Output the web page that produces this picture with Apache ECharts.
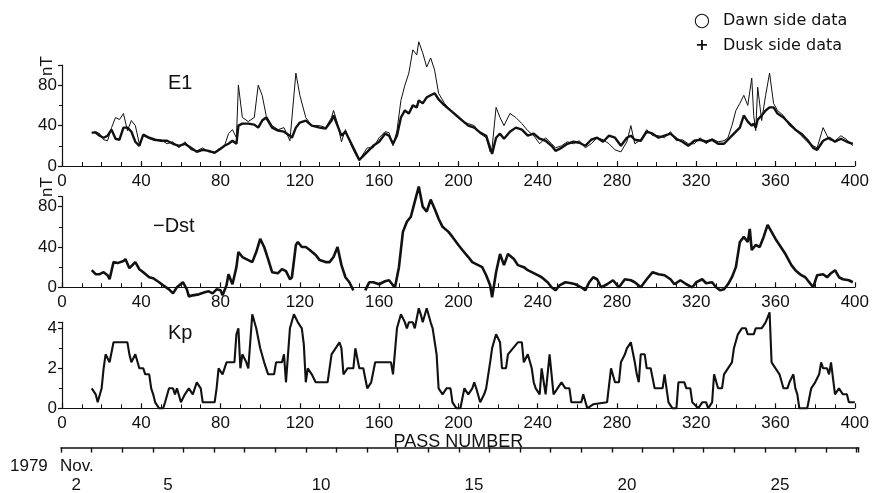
<!DOCTYPE html>
<html>
<head>
<meta charset="utf-8">
<script src="https://cdn.jsdelivr.net/npm/echarts@6/dist/echarts.min.js"></script>
<style>html,body{margin:0;padding:0;background:#fff}#c{width:872px;height:493px}</style>
</head>
<body>
<div id="c"></div>
<script>
// ---- DATA ----
const passE1 = [15,17,19,21,23,25,27,29,31,33,35,37,39,41,44,47,50,53,56,59,62,65,68,71,74,77,80,82,84,86,88,89,91,94,97,99,101,103,106,109,112,115,116,118,120,123,126,130,133,136,137,139,141,143,146,148,150,152,154,157,160,163,165,167,169,171,173,175,177,179,180,182,184,186,188,190,193,196,199,202,205,208,211,214,216,217,219,221,223,226,229,232,235,238,241,244,247,249,252,255,258,261,264,267,270,273,276,279,282,285,287,289,292,295,298,301,304,307,310,313,316,319,322,325,328,331,334,336,338,340,342,344,346,348,349,350,351,353,355,357,359,361,364,367,370,373,376,379,381,384,387,390,393,396,399];
const e1Dusk = [33,33,30,28,30,36,27,26,38,38,34,24,20,31,28,26,25,25,22,20,22,18,14,16,15,13,17,20,22,25,22,40,42,42,41,38,45,48,38,35,34,30,28,38,43,45,40,38,37,45,50,40,30,34,22,14,6,10,14,20,24,32,30,22,30,48,55,52,60,58,65,62,68,70,72,66,60,55,50,45,40,38,33,30,18,12,28,32,27,34,38,36,30,32,27,25,20,15,18,22,24,23,20,26,28,24,30,28,20,28,30,26,25,34,32,28,30,32,27,24,20,25,26,24,26,22,22,26,30,34,38,50,44,40,42,38,46,50,55,58,58,52,48,42,36,32,26,18,16,25,28,24,27,24,22];
const e1Dawn = [33,34,32,26,25,38,48,46,52,35,45,40,22,30,27,25,26,22,24,18,24,16,15,18,14,14,18,20,32,36,28,80,48,44,48,80,70,50,40,36,38,25,24,92,70,48,40,40,38,48,55,42,24,36,20,12,5,12,18,18,28,34,33,20,35,65,80,92,115,110,123,112,98,107,95,72,62,55,50,44,42,40,32,28,14,18,58,48,40,52,48,42,35,30,22,28,22,18,20,24,22,25,18,22,28,26,22,16,14,24,40,22,26,36,30,30,28,34,25,26,22,22,28,22,27,24,25,28,40,55,62,70,60,87,50,35,78,45,70,92,62,55,50,40,36,30,24,20,18,38,26,25,30,26,20];

const passDst = [15,17,19,21,23,24,26,28,31,32,34,37,39,41,44,46,49,51,54,56,58,61,63,64,66,69,72,74,76,78,80,81,83,84,86,88,89,91,94,96,98,100,102,104,106,109,111,113,115,116,118,119,121,123,125,128,130,133,135,137,139,141,143,145,147,150,153,155,157,160,163,165,167,168,170,172,174,176,178,180,182,184,186,188,190,192,195,197,200,202,205,207,210,212,214,216,217,219,221,223,225,228,230,233,235,238,240,242,245,247,249,251,254,257,259,262,264,266,268,270,272,275,278,281,284,287,289,292,295,298,301,304,307,309,312,315,318,320,323,325,328,330,332,334,336,338,340,342,344,346,347,348,350,352,354,356,358,360,362,365,368,370,373,375,377,379,381,384,386,388,390,392,394,397,399];
const dst = [17,13,13,15,12,8,25,24,26,28,19,25,18,15,10,9,5,2,-2,-6,0,5,-2,-9,-8,-7,-5,-4,-6,-2,-3,-8,2,13,3,20,35,30,27,25,35,48,40,28,15,14,18,16,8,10,42,45,40,40,37,32,27,25,25,30,40,22,10,5,-3,null,-3,5,5,3,6,7,2,0,20,55,65,70,85,100,80,75,87,78,68,60,55,50,42,37,30,25,22,20,12,2,-10,15,33,22,33,28,22,20,17,14,12,10,5,0,-3,2,5,4,3,0,-3,5,10,8,0,3,7,0,8,7,5,0,8,15,13,12,8,3,7,3,0,5,8,4,5,0,-3,-2,3,10,20,45,50,45,58,37,42,40,50,62,55,48,42,33,22,17,12,10,5,0,12,13,10,14,17,10,8,7,5];

const passKp = [15,17,18,20,21,22,24,25,26,33,34,35,36,37,39,41,42,44,45,46,47,49,51,52,54,56,57,58,59,60,61,62,64,66,67,68,70,71,77,78,79,80,81,82,83,87,88,89,90,91,93,94,95,96,98,100,102,104,107,108,111,112,113,114,115,117,119,121,122,123,124,126,128,134,136,138,140,141,142,144,147,148,149,150,152,154,156,158,166,167,169,171,173,174,175,177,178,180,181,182,184,186,187,189,190,192,194,196,197,199,201,203,205,207,208,209,211,213,214,216,217,219,220,221,222,224,225,226,230,232,233,235,237,238,239,241,242,243,244,245,246,247,248,250,252,254,256,257,262,263,264,265,268,275,277,279,281,282,284,285,287,288,289,290,291,292,294,295,297,299,303,304,306,308,310,311,314,315,317,318,321,323,325,326,328,329,330,331,333,334,336,338,339,341,343,345,346,349,350,353,355,356,357,358,360,362,364,366,367,369,370,371,372,376,378,380,382,383,384,386,387,388,389,390,392,394,396,397,400];
const kp = [1.0,0.7,0.3,1.0,2.0,2.7,2.3,2.3,3.3,3.3,2.7,2.3,2.3,2.7,2.0,2.0,1.7,1.7,1.0,0.7,0.3,0.0,0.0,0.3,1.0,1.0,0.7,1.0,1.0,0.3,0.3,0.7,1.0,0.7,1.0,1.3,1.0,0.3,0.3,1.0,2.0,2.0,1.7,1.7,2.3,2.3,3.7,4.0,2.0,2.7,2.3,2.0,2.0,4.7,4.0,3.0,2.3,1.7,1.7,2.3,2.3,2.7,1.3,1.3,4.0,4.7,4.3,4.0,3.2,1.3,2.0,1.7,1.3,1.3,2.7,3.0,3.3,3.0,1.7,2.0,2.0,3.0,3.0,2.0,2.0,1.0,1.3,2.3,2.3,1.7,4.0,4.7,4.3,4.0,4.3,4.3,4.0,5.0,4.7,4.3,5.0,4.3,4.0,2.7,1.0,0.7,1.0,1.0,0.3,0.0,0.0,1.0,0.7,1.0,1.3,1.0,0.3,0.7,1.0,2.3,3.0,3.7,3.7,3.3,2.0,2.0,2.7,2.7,3.3,3.3,2.3,2.7,2.0,1.3,1.0,0.7,2.0,2.0,0.7,0.7,2.7,2.7,0.7,1.0,1.3,1.0,1.0,0.3,0.3,0.7,0.7,0.0,0.2,0.3,2.0,1.3,1.3,2.3,2.7,3.0,3.3,3.3,2.3,1.7,1.3,2.7,2.7,2.0,2.0,1.0,1.0,1.7,0.3,0.0,0.0,1.3,1.3,1.0,1.0,0.3,0.0,0.3,0.3,0.0,0.3,1.7,1.7,1.0,1.0,1.7,2.0,2.3,3.0,3.7,4.0,4.0,3.7,3.7,4.0,4.0,4.3,4.3,4.8,2.3,2.0,1.7,1.0,1.0,1.3,1.7,1.0,0.7,0.0,0.0,1.0,1.3,1.7,2.3,2.0,2.0,1.7,2.3,2.3,0.7,1.0,0.7,0.7,0.3,0.3];

const passTicks = [0,40,80,120,160,200,240,280,320,360,400];
const dayLabels = [2,5,10,15,20,25];
const panelNames = ['E1','\u2212Dst','Kp'];
const legendNames = ['Dawn side data','Dusk side data'];

// ---- BUILD ----
const pairs = (xs, ys) => xs.map((x,i) => [x, ys[i]]);
const FONT = 'Liberation Sans, Arial, sans-serif';
const INK = '#111';

function passAxis(gi, extra) {
  return Object.assign({
    gridIndex: gi, type: 'value', min: passTicks[0], max: passTicks[passTicks.length-1], interval: 40,
    axisLine: {show: true, onZero: false, lineStyle: {color: INK, width: 1.2}},
    axisTick: {show: true, inside: true, length: 5, lineStyle: {color: INK, width: 1.2}},
    minorTick: {show: true, splitNumber: 4, length: 4, lineStyle: {color: INK, width: 1}},
    splitLine: {show: false},
    axisLabel: {color: INK, fontSize: 17, fontFamily: FONT, margin: 7}
  }, extra || {});
}
function valAxis(gi, max, interval) {
  return {
    gridIndex: gi, type: 'value', min: 0, max: max, interval: interval,
    axisLine: {show: true, onZero: false, lineStyle: {color: INK, width: 1.2}},
    axisTick: {show: true, inside: false, length: 4, lineStyle: {color: INK, width: 1.2}},
    minorTick: {show: true, splitNumber: 2, length: 3, lineStyle: {color: INK, width: 1}},
    splitLine: {show: false},
    axisLabel: {color: INK, fontSize: 17, fontFamily: FONT, margin: 5,
      formatter: v => (Math.abs(v / interval - Math.round(v / interval)) < 1e-6) ? String(v) : ''}
  };
}

const option = {
  animation: false,
  backgroundColor: '#fff',
  grid: [
    {left: 62, width: 795, top: 65, height: 101},
    {left: 62, width: 795, top: 196.6, height: 90.7},
    {left: 62, width: 795, top: 322.3, height: 86},
    {left: 61, width: 797.7, top: 447.3, height: 1}
  ],
  xAxis: [
    passAxis(0),
    passAxis(1),
    passAxis(2, {name: 'PASS NUMBER', nameLocation: 'middle', nameGap: 22,
      nameTextStyle: {color: INK, fontSize: 18, fontFamily: FONT}}),
    {gridIndex: 3, type: 'value', min: 2, max: 28.07, interval: 1,
      axisLine: {show: true, lineStyle: {color: INK, width: 1.6}},
      axisTick: {show: true, inside: false, length: 5, lineStyle: {color: INK, width: 1.4}},
      splitLine: {show: false},
      axisLabel: {customValues: dayLabels.map(d => d + 0.5), formatter: v => String(Math.floor(v)),
        color: INK, fontSize: 17, fontFamily: FONT, margin: 29}}
  ],
  yAxis: [
    valAxis(0, 100, 40),
    valAxis(1, 90, 40),
    valAxis(2, 4.3, 2),
    {gridIndex: 3, type: 'value', show: false, min: 0, max: 1}
  ],
  series: [
    {name: legendNames[0], type: 'line', xAxisIndex: 0, yAxisIndex: 0, data: pairs(passE1, e1Dawn),
      showSymbol: false, clip: false, lineStyle: {color: INK, width: 1}},
    {name: legendNames[1], type: 'line', xAxisIndex: 0, yAxisIndex: 0, data: pairs(passE1, e1Dusk),
      showSymbol: false, clip: false, lineStyle: {color: INK, width: 2.4}},
    {name: 'Dst', type: 'line', xAxisIndex: 1, yAxisIndex: 1, data: pairs(passDst, dst),
      showSymbol: false, clip: false, connectNulls: false, lineStyle: {color: INK, width: 2.6}},
    {name: 'Kp', type: 'line', xAxisIndex: 2, yAxisIndex: 2, data: pairs(passKp, kp),
      showSymbol: false, clip: false, lineStyle: {color: INK, width: 2.1}}
  ],
  graphic: [
    {type: 'text', left: 168, top: 73, style: {text: panelNames[0], font: '20px ' + FONT, fill: INK}},
    {type: 'text', left: 153, top: 216, style: {text: panelNames[1], font: '20px ' + FONT, fill: INK}},
    {type: 'text', left: 168, top: 323, style: {text: panelNames[2], font: '20px ' + FONT, fill: INK}},
    {type: 'text', x: 47, y: 66, rotation: Math.PI / 2,
      style: {text: 'nT', font: '17px ' + FONT, fill: INK, align: 'center', verticalAlign: 'middle'}},
    {type: 'text', x: 47, y: 187, rotation: Math.PI / 2,
      style: {text: 'nT', font: '17px ' + FONT, fill: INK, align: 'center', verticalAlign: 'middle'}},
    {type: 'text', x: 702, y: 21, style: {text: '\u25CB', font: '19px DejaVu Sans', fill: INK, align: 'center', verticalAlign: 'middle'}},
    {type: 'text', x: 723, y: 21, style: {text: legendNames[0], font: '16px DejaVu Sans', fill: INK, align: 'left', verticalAlign: 'middle'}},
    {type: 'text', x: 702, y: 46, style: {text: '+', font: 'bold 16px DejaVu Sans', fill: INK, align: 'center', verticalAlign: 'middle'}},
    {type: 'text', x: 723, y: 46, style: {text: legendNames[1], font: '16px DejaVu Sans', fill: INK, align: 'left', verticalAlign: 'middle'}},
    {type: 'text', x: 10, y: 466, style: {text: '1979', font: '17px ' + FONT, fill: INK, verticalAlign: 'middle'}},
    {type: 'text', x: 60, y: 466, style: {text: 'Nov.', font: '17px ' + FONT, fill: INK, verticalAlign: 'middle'}}
  ]
};

const chart = echarts.init(document.getElementById('c'), null, {renderer: 'canvas'});
chart.setOption(option);
</script>
</body>
</html>
